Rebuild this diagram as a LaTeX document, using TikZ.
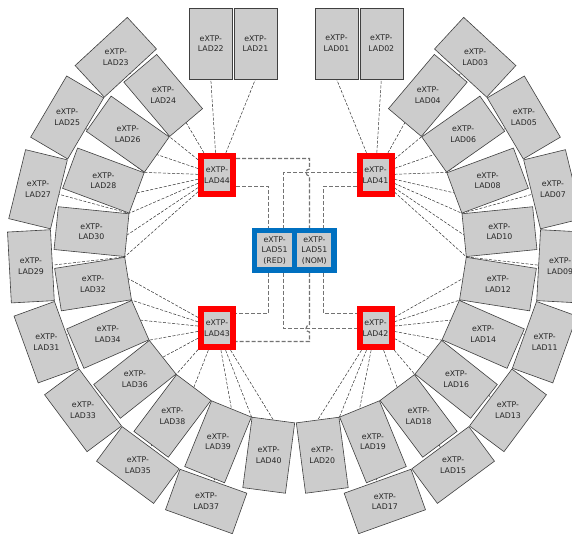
\documentclass[tikz,border=0pt]{standalone}
\usepackage{fontspec}
\setmainfont{DejaVu Sans}
\usetikzlibrary{backgrounds}
\definecolor{boxgray}{RGB}{204,204,204}
\definecolor{frred}{RGB}{255,0,0}
\definecolor{frblue}{RGB}{0,112,192}
\definecolor{wiregray}{RGB}{115,115,115}
\begin{document}
\begin{tikzpicture}[x=1pt,y=1pt,
  lbl/.style={font=\fontsize{7.8}{10.6}\selectfont, align=center, text=black!85, inner sep=0pt},
  ring/.style={draw=black!75, line width=0.6pt, fill=boxgray, inner sep=0pt, outer sep=0pt},
  redbox/.style={lbl, draw=frred, line width=6pt, fill=boxgray, minimum width=32pt, minimum height=38.5pt, inner sep=0pt},
  bluebox/.style={lbl, draw=frblue, line width=5.5pt, fill=boxgray, minimum width=39.75pt, minimum height=39.5pt, inner sep=0pt},
  wire/.style={draw=black!80, line width=0.5pt, dash pattern=on 3pt off 1.6pt},
  bus/.style={draw=wiregray, line width=1.15pt, dash pattern=on 4pt off 2pt}
]
\useasboundingbox (0,0) rectangle (572,533);

% top row
\foreach \nm/\px in {22/210.8, 21/255.5, 01/336.5, 02/381.3}{
  \node[ring, minimum width=43pt, minimum height=71pt] (L\nm) at (\px,489.5) {};
  \node[lbl] (T\nm) at (L\nm.center) {eXTP-\\LAD\nm};
}

% ring boxes
\begin{scope}[shift={(295.5,281)}]
\foreach \nm/\ang/\rad/\rot/\bw/\bh in {
20/-82.5/205/7.5/43/71,
19/-67.8/205/22.2/43/71,
18/-53.1/205/36.9/43/71,
16/-38.4/205/-38.4/71/43,
14/-23.7/205/-23.7/71/43,
12/-9.0/205/-9.0/71/43,
10/5.7/205/5.7/71/43,
08/20.4/205/20.4/71/43,
06/35.1/205/35.1/71/43,
04/49.8/205/-40.2/43/71,
40/262.5/205/-7.5/43/71,
39/247.8/205/-22.2/43/71,
38/233.1/205/-36.9/43/71,
36/218.4/205/38.4/71/43,
34/203.7/205/23.7/71/43,
32/189.0/205/9.0/71/43,
30/174.3/205/-5.7/71/43,
28/159.6/205/-20.4/71/43,
26/144.9/205/-35.1/71/43,
24/130.2/205/40.2/43/71,
17/-70.3/265/19.7/71/43,
15/-53.5/265/36.5/71/43,
13/-36.7/265/-36.7/43/71,
11/-19.9/265/-19.9/43/71,
09/-3.1/265/-3.1/43/71,
07/13.7/265/13.7/43/71,
05/30.5/265/30.5/43/71,
03/47.3/265/-42.7/71/43,
37/250.3/265/-19.7/71/43,
35/233.5/265/-36.5/71/43,
33/216.7/265/36.7/43/71,
31/199.9/265/19.9/43/71,
29/183.1/265/3.1/43/71,
27/166.3/265/-13.7/43/71,
25/149.5/265/-30.5/43/71,
23/132.7/265/42.7/71/43}{
  \node[ring, rotate=\rot, minimum width=\bw pt, minimum height=\bh pt] (L\nm) at (\ang:\rad) {};
  \node[lbl] (T\nm) at (L\nm.center) {eXTP-\\LAD\nm};
}
\foreach \j/\ang in {2019/-75.15, 1918/-60.45, 1816/-45.75, 1614/-31.05, 1412/-16.35, 1210/-1.65, 1008/13.05, 0806/27.75, 0604/42.45, 4039/255.15, 3938/240.45, 3836/225.75, 3634/211.05, 3432/196.35, 3230/181.65, 3028/166.95, 2826/152.25, 2624/137.55}
  \coordinate (j\j) at (\ang:171);
\end{scope}

% red boxes
\node[redbox] (r44) at (217,358) {eXTP-\\LAD44};
\node[redbox] (r41) at (375.5,358) {eXTP-\\LAD41};
\node[redbox] (r43) at (217,205) {eXTP-\\LAD43};
\node[redbox] (r42) at (375.5,205) {eXTP-\\LAD42};

% blue boxes
\node[bluebox] (b51r) at (274.6,282.5) {eXTP-\\LAD51\\(RED)};
\node[bluebox] (b51n) at (314.35,282.5) {eXTP-\\LAD51\\(NOM)};

\begin{scope}[on background layer]
\fill[white] (0,0) rectangle (572,533);
% LAD41 group
\foreach \t in {L01.south, L02.south, L04.south, L06.west, L08.west, L10.west}
  \draw[wire] (r41) -- (\t);
\foreach \j/\t in {0604/L03.south, 0806/L05.west, 1008/L07.west, 1210/L09.west}
  \draw[wire] (r41) -- (j\j) -- (\t);
% LAD42 group
\foreach \t in {L12.west, L14.west, L16.west, L18.north, L19.north, L20.north}
  \draw[wire] (r42) -- (\t);
\foreach \j/\t in {1412/L11.west, 1614/L13.west, 1816/L15.north, 2019/L17.north}
  \draw[wire] (r42) -- (j\j) -- (\t);
% LAD44 group
\foreach \t in {L22.south, L21.south, L24.south, L26.east, L28.east, L30.east}
  \draw[wire] (r44) -- (\t);
\foreach \j/\t in {2624/L23.south, 2826/L25.east, 3028/L27.east, 3230/L29.east}
  \draw[wire] (r44) -- (j\j) -- (\t);
% LAD43 group
\foreach \t in {L32.east, L34.east, L36.east, L38.north, L39.north, L40.north}
  \draw[wire] (r43) -- (\t);
\foreach \j/\t in {3432/L31.east, 3634/L33.east, 3836/L35.north, 4039/L37.north}
  \draw[wire] (r43) -- (j\j) -- (\t);

% buses between red and blue boxes
\draw[bus] (r44.east |- 0,374.5) -- (309.5,374.5) -- (309.5,364) arc[start angle=90, end angle=270, radius=3.5] -- (b51n.north -| 309.5,0);
\draw[bus] (r41.west |- 0,360.5) -- (283.5,360.5) -- (b51r.north -| 283.5,0);
\draw[bus] (r44.east |- 0,346.5) -- (268.5,346.5) -- (b51r.north -| 268.5,0);
\draw[bus] (r41.west |- 0,346.5) -- (323.5,346.5) -- (b51n.north -| 323.5,0);
\draw[bus] (b51r.south -| 268.5,0) -- (268.5,219.5) -- (r43.east |- 0,219.5);
\draw[bus] (b51n.south -| 323.5,0) -- (323.5,219.5) -- (r42.west |- 0,219.5);
\draw[bus] (b51r.south -| 283.5,0) -- (283.5,204.5) -- (r42.west |- 0,204.5);
\draw[bus] (b51n.south -| 309.5,0) -- (309.5,208) arc[start angle=90, end angle=270, radius=3.5] -- (309.5,191.5) -- (r43.east |- 0,191.5);
\end{scope}
\end{tikzpicture}
\end{document}
